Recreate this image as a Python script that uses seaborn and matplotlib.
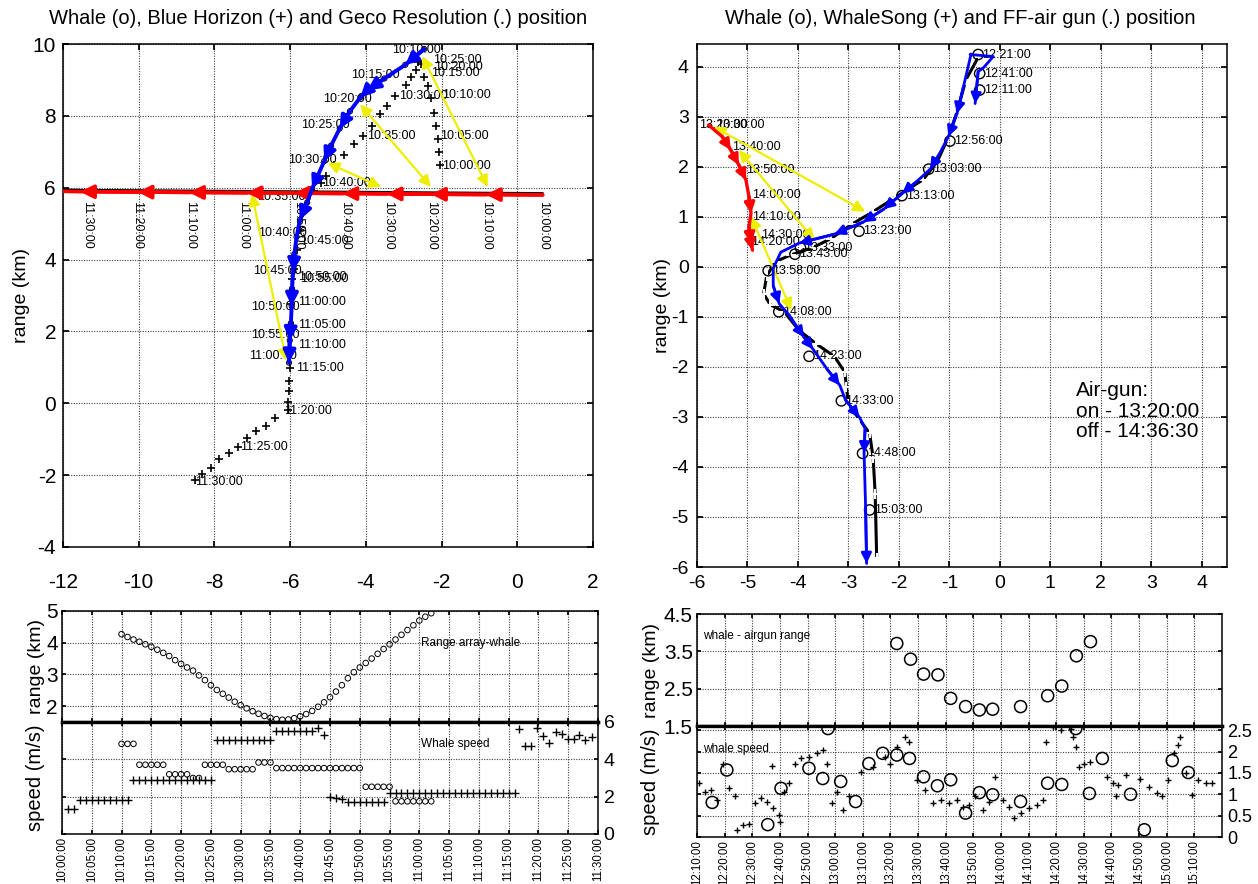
import matplotlib
matplotlib.use("Agg")
import matplotlib.pyplot as plt
import seaborn as sns

# ---------------- DATA ----------------
# Panel A (top-left): whale track (o), Blue Horizon (+), Geco Resolution (.)
whaleA_x = [-2.46, -2.96, -3.51, -3.96, -4.15, -4.42, -4.69, -4.92, -5.10, -5.28, -5.42,
            -5.55, -5.74, -5.83, -5.89, -5.92, -5.95, -5.96, -5.98, -6.01, -6.03]
whaleA_y = [9.86, 9.42, 9.04, 8.71, 8.51, 8.13, 7.65, 7.17, 6.74, 6.31, 5.97,
            5.59, 5.11, 4.63, 4.15, 3.67, 3.19, 2.71, 2.23, 1.75, 1.13]
whaleA_arrow_tips = [1, 3, 4, 6, 8, 10, 12, 15, 17, 19, 20]
whaleA_labels = ['10:10:00', '10:15:00', '10:20:00', '10:25:00', '10:30:00', '10:35:00',
                 '10:40:00', '10:45:00', '10:50:00', '10:55:00', '11:00:00']
whaleA_lab_x = [-2.01, -3.10, -3.83, -4.42, -4.78, -5.60, -5.55, -5.69, -5.74, -5.74, -5.83]
whaleA_lab_y = [9.83, 9.14, 8.47, 7.75, 6.76, 5.73, 4.73, 3.67, 2.67, 1.90, 1.32]

bh_x = [-2.05, -2.07, -2.10, -2.14, -2.19, -2.28, -2.37, -2.46, -2.55, -2.62, -2.68, -2.82,
        -2.95, -3.22, -3.44, -3.62, -3.85, -4.07, -4.30, -4.57, -4.83, -5.06, -5.19, -5.37,
        -5.60, -5.73, -5.82, -5.91, -5.96, -5.97, -5.98, -6.00, -6.00, -6.02, -6.03, -6.05,
        -6.05, -6.39, -6.65, -6.91, -7.13, -7.37, -7.62, -7.87, -8.10, -8.33, -8.51]
bh_y = [6.64, 7.00, 7.36, 7.73, 8.09, 8.50, 8.82, 9.09, 9.45, 9.50, 9.27, 9.09,
        8.86, 8.55, 8.27, 8.05, 7.73, 7.45, 7.23, 6.91, 6.64, 6.32, 6.14, 5.91,
        5.36, 4.82, 4.27, 3.73, 3.47, 2.76, 2.13, 1.51, 0.98, 0.62, 0.34, 0.04,
        -0.18, -0.40, -0.62, -0.78, -0.98, -1.22, -1.38, -1.55, -1.79, -1.98, -2.13]
bh_labels = ['10:00:00', '10:05:00', '10:10:00', '10:15:00', '10:20:00', '10:25:00', '10:30:00',
             '10:35:00', '10:40:00', '10:45:00', '10:50:00', '10:55:00', '11:00:00', '11:05:00',
             '11:10:00', '11:15:00', '11:20:00', '11:25:00', '11:30:00']
bh_lab_x = [-2.00, -2.05, -1.98, -2.28, -2.20, -2.23, -3.13, -3.98, -5.15, -5.75, -5.78,
            -5.75, -5.80, -5.80, -5.78, -5.85, -6.15, -7.33, -8.50]
bh_lab_y = [6.60, 7.45, 8.57, 9.18, 9.36, 9.55, 8.55, 7.45, 6.14, 4.53, 3.52, 3.45,
            2.81, 2.19, 1.61, 0.99, -0.21, -1.22, -2.18]

geco_x = [0.67, -0.83, -2.28, -3.45, -4.62, -5.90, -7.15, -8.67, -10.03, -11.55, -12.0]
geco_y = [5.80, 5.81, 5.82, 5.83, 5.84, 5.85, 5.86, 5.87, 5.88, 5.89, 5.90]
geco_dot_y = [5.84, 5.85, 5.86, 5.87, 5.88, 5.89, 5.90, 5.91, 5.92, 5.93, 5.94]
geco_labels = ['10:00:00', '10:10:00', '10:20:00', '10:30:00', '10:40:00', '10:50:00',
               '11:00:00', '11:10:00', '11:20:00', '11:30:00']
geco_lab_x = [0.67, -0.83, -2.28, -3.42, -4.55, -5.78, -7.24, -8.65, -10.05, -11.37]
geco_lab_y = 5.62

yelA_x0 = [-0.78, -2.28, -3.60, -7.01]
yelA_y0 = [6.02, 6.02, 6.02, 5.83]
yelA_x1 = [-2.51, -4.15, -5.01, -6.10]
yelA_y1 = [9.66, 8.32, 6.69, 1.18]

# Panel B (top-right): whale (o), WhaleSong (+), FF-air gun (.)
whaleB_x = [-0.57, -0.72, -0.85, -1.02, -1.20, -1.38, -1.65, -1.94, -2.30, -2.71, -3.28,
            -3.98, -4.34, -4.49, -4.49, -4.37, -4.19, -3.88, -3.70, -3.42, -3.17, -3.06,
            -2.78, -2.67, -2.69, -2.66, -2.64]
whaleB_y = [4.25, 3.60, 3.06, 2.60, 2.25, 1.95, 1.70, 1.46, 1.15, 0.89, 0.65,
            0.47, 0.29, -0.03, -0.38, -0.74, -0.95, -1.41, -1.65, -2.05, -2.37, -2.66,
            -3.01, -3.23, -3.72, -4.80, -5.93]
whaleB_arrow_tips = [2, 3, 5, 7, 8, 9, 10, 11, 15, 17, 18, 20, 22, 24, 26]
whaleB_loop_x = [-0.59, -0.13, -0.33, -0.43, -0.49]
whaleB_loop_y = [4.24, 4.20, 3.97, 3.90, 3.26]
whaleB_labels = ['12:21:00', '12:41:00', '12:11:00', '12:56:00', '13:03:00', '13:13:00',
                 '13:23:00', '13:33:00', '13:43:00', '13:58:00', '14:08:00', '14:23:00',
                 '14:33:00', '14:48:00', '15:03:00']
whaleB_cx = [-0.43, -0.40, -0.40, -0.99, -1.41, -1.94, -2.79, -3.95, -4.06, -4.59, -4.38,
             -3.78, -3.14, -2.72, -2.58]
whaleB_cy = [4.24, 3.86, 3.53, 2.51, 1.95, 1.42, 0.71, 0.38, 0.25, -0.08, -0.90,
             -1.79, -2.68, -3.73, -4.86]

ws_x = [-0.42, -0.67, -0.85, -1.02, -1.24, -1.52, -2.08, -2.51, -2.93, -3.35, -3.71, -4.13,
        -4.45, -4.62, -4.68, -4.55, -4.27, -3.99, -3.64, -3.28, -3.07, -3.04, -3.00, -2.79,
        -2.58, -2.51, -2.47, -2.44]
ws_y = [4.20, 3.74, 3.09, 2.59, 2.10, 1.74, 1.38, 1.10, 0.85, 0.56, 0.38, 0.24,
        0.10, -0.19, -0.54, -0.76, -0.90, -1.26, -1.54, -1.79, -2.11, -2.40, -2.75, -3.04,
        -3.33, -3.82, -4.54, -5.82]

ff_x = [-5.77, -5.50, -5.33, -5.17, -5.03, -4.97, -4.93, -4.97, -4.93, -4.90]
ff_y = [2.83, 2.60, 2.33, 2.03, 1.73, 1.40, 1.07, 0.80, 0.47, 0.33]
ff_arrow_tips = [2, 3, 4, 6, 8, 9]
ff_labels = ['13:20:00', '13:30:00', '13:40:00', '13:50:00', '14:00:00', '14:10:00',
             '14:30:00', '14:20:00']
ff_lab_x = [-5.95, -5.62, -5.30, -5.03, -4.90, -4.90, -4.73, -4.93]
ff_lab_y = [2.83, 2.83, 2.40, 1.93, 1.43, 1.00, 0.63, 0.50]

yelB_x0 = [-5.67, -5.17, -4.93]
yelB_y0 = [2.80, 2.33, 1.00]
yelB_x1 = [-2.67, -3.67, -4.13]
yelB_y1 = [1.10, 0.53, -0.87]

airgun_note = "Air-gun:\non - 13:20:00\noff - 14:36:30"

# Panel C (bottom-left): minutes after 10:00:00
rangeC_t = [10, 11, 12, 13, 14, 15, 16, 17, 18, 19, 20, 21, 22, 23, 24, 25, 26, 27, 28, 29,
            30, 31, 32, 33, 34, 35, 36, 37, 38, 39, 40, 41, 42, 43, 44, 45, 46, 47, 48, 49,
            50, 51, 52, 53, 54, 55, 56, 57, 58, 59, 60, 61, 62]
rangeC_km = [4.27, 4.18, 4.10, 4.03, 3.95, 3.87, 3.78, 3.68, 3.58, 3.45, 3.33, 3.22, 3.12,
             2.97, 2.82, 2.66, 2.51, 2.39, 2.27, 2.14, 2.03, 1.93, 1.84, 1.76, 1.69, 1.63,
             1.59, 1.57, 1.58, 1.62, 1.68, 1.75, 1.85, 1.98, 2.12, 2.28, 2.46, 2.66, 2.88,
             3.07, 3.22, 3.36, 3.50, 3.65, 3.80, 3.95, 4.10, 4.25, 4.40, 4.55, 4.70, 4.82, 4.93]
whale_spdC_t = [10, 11, 12, 13, 14, 15, 16, 17, 18, 19, 20, 21, 22, 23, 24, 25, 26, 27,
                28, 29, 30, 31, 32, 33, 34, 35, 36, 37, 38, 39, 40, 41, 42, 43, 44, 45, 46,
                47, 48, 49, 50, 51, 52, 53, 54, 55, 56, 57, 58, 59, 60, 61, 62]
whale_spdC_v = [4.83, 4.83, 4.83, 3.71, 3.71, 3.71, 3.71, 3.71, 3.20, 3.20, 3.20, 3.20,
                3.00, 3.00, 3.71, 3.71, 3.71, 3.71, 3.47, 3.47, 3.47, 3.47, 3.47, 3.83,
                3.83, 3.83, 3.53, 3.53, 3.53, 3.53, 3.53, 3.53, 3.53, 3.53, 3.53, 3.53,
                3.53, 3.53, 3.53, 3.53, 3.53, 2.53, 2.53, 2.53, 2.53, 2.53, 1.75, 1.75,
                1.75, 1.75, 1.75, 1.75, 1.75]
ship_spdC_t = [1, 2, 3, 4, 5, 6, 7, 8, 9, 10, 11, 12, 13, 14, 15, 16, 17, 18, 19, 20, 21,
               22, 23, 24, 25, 26, 27, 28, 29, 30, 31, 32, 33, 34, 35, 36, 37, 38, 39, 40,
               41, 42, 43, 44, 45, 46, 47, 48, 49, 50, 51, 52, 53, 54, 55, 56, 57, 58, 59,
               60, 61, 62, 63, 64, 65, 66, 67, 68, 69, 70, 71, 72, 73, 74, 75, 76,
               76.7, 77.7, 78.7, 79.7, 80.7, 81.7, 83, 84, 85, 86, 86.8, 87.9, 89]
ship_spdC_v = [1.36, 1.36, 1.84, 1.84, 1.84, 1.84, 1.84, 1.84, 1.84, 1.84, 1.84, 2.89,
               2.89, 2.89, 2.89, 2.89, 2.89, 2.89, 2.89, 2.89, 2.89, 2.89, 2.89, 2.89,
               2.89, 5.03, 5.03, 5.03, 5.03, 5.03, 5.03, 5.03, 5.03, 5.03, 5.03, 5.52,
               5.52, 5.52, 5.52, 5.52, 5.52, 5.52, 5.70, 5.28, 2.00, 1.95, 1.85, 1.72,
               1.72, 1.72, 1.72, 1.72, 1.72, 1.72, 2.17, 2.17, 2.17, 2.17, 2.17, 2.17,
               2.17, 2.17, 2.17, 2.17, 2.17, 2.17, 2.17, 2.17, 2.17, 2.17, 2.17, 2.17,
               2.17, 2.17, 2.17, 2.17,
               5.60, 4.74, 4.70, 5.70, 5.24, 4.85, 5.46, 5.37, 5.10, 5.10, 5.33, 5.06, 5.20]
timeC_ticks = [0, 5, 10, 15, 20, 25, 30, 35, 40, 45, 50, 55, 60, 65, 70, 75, 80, 85, 90]
timeC_labels = ['10:00:00', '10:05:00', '10:10:00', '10:15:00', '10:20:00', '10:25:00',
                '10:30:00', '10:35:00', '10:40:00', '10:45:00', '10:50:00', '10:55:00',
                '11:00:00', '11:05:00', '11:10:00', '11:15:00', '11:20:00', '11:25:00',
                '11:30:00']

# Panel D (bottom-right): minutes after 12:10:00
rangeD_t = [72.3, 77.3, 82.0, 87.2, 91.8, 97.2, 102.2, 107.0, 117.1, 126.9, 132.0, 137.3, 142.4]
rangeD_km = [3.71, 3.29, 2.89, 2.87, 2.24, 2.02, 1.93, 1.95, 2.02, 2.31, 2.57, 3.38, 3.76]
whale_spdD_t = [5.5, 10.8, 25.6, 30.4, 40.5, 45.5, 47.4, 52.0, 57.4, 62.2, 67.2, 72.3, 76.9,
                82.0, 87.0, 91.8, 97.2, 102.2, 107.0, 117.1, 126.9, 132.0, 137.1, 142.0,
                146.7, 156.9, 161.9, 172.0, 177.8]
whale_spdD_v = [0.81, 1.57, 0.29, 1.14, 1.61, 1.37, 2.54, 1.30, 0.83, 1.72, 1.96, 1.92, 1.84,
                1.41, 1.20, 1.34, 0.56, 1.04, 0.99, 0.83, 1.26, 1.23, 2.54, 1.02,
                1.84, 1.00, 0.17, 1.79, 1.51]
ship_spdD_t = [0.7, 2.9, 5.1, 7.2, 9.4, 11.6, 13.7, 14.5, 16.6, 18.8, 21.0, 23.1, 25.3, 27.2,
               27.5, 29.6, 30.1, 31.5, 33.3, 35.4, 37.6, 40.5, 43.4, 45.5, 47.0, 48.9, 50.6,
               52.8, 54.9, 59.3, 63.6, 67.9, 69.7, 72.3, 75.2, 76.6, 79.5, 82.4, 85.3, 88.2,
               91.1, 94.0, 96.1, 98.3, 100.5, 103.4, 105.5, 107.7, 110.6, 112.8, 114.9, 117.1,
               120.0, 122.9, 125.1, 126.2, 128.7, 131.6, 135.2, 136.2, 137.1, 138.1, 140.2,
               142.4, 148.2, 150.4, 151.8, 152.5, 155.4, 160.5, 163.4, 166.3, 168.4, 170.6,
               172.8, 174.2, 174.9, 177.1, 179.3, 181.4, 184.3, 186.5]
ship_spdD_v = [1.26, 1.06, 1.09, 0.87, 1.72, 1.14, 0.95, 0.17, 0.27, 0.30, 0.79, 0.91, 0.83,
               1.67, 0.68, 0.52, 0.34, 1.06, 1.26, 1.72, 1.84, 1.88, 1.96, 2.03, 1.72, 0.79,
               1.06, 0.64, 0.95, 1.53, 1.65, 1.88, 1.72, 2.11, 2.34, 2.23, 1.34, 1.10, 0.79,
               0.87, 0.79, 0.87, 0.71, 0.75, 0.95, 0.64, 0.83, 1.41, 0.87, 0.71, 0.44, 0.56,
               0.68, 0.75, 0.87, 2.23, 2.58, 2.50, 2.54, 2.34, 2.11, 1.65, 1.72, 1.76, 1.41,
               1.26, 0.95, 1.22, 1.45, 1.37, 1.18, 1.02, 0.95, 1.34, 1.96, 2.15, 2.34, 1.49,
               0.99, 1.34, 1.27, 1.27]
timeD_ticks = [0, 10, 20, 30, 40, 50, 60, 70, 80, 90, 100, 110, 120, 130, 140, 150, 160,
               170, 180]
timeD_labels = ['12:10:00', '12:20:00', '12:30:00', '12:40:00', '12:50:00', '13:00:00',
                '13:10:00', '13:20:00', '13:30:00', '13:40:00', '13:50:00', '14:00:00',
                '14:10:00', '14:20:00', '14:30:00', '14:40:00', '14:50:00', '15:00:00',
                '15:10:00']

# ---------------- STYLE ----------------
sns.set_theme(style="ticks")
plt.rcParams["font.family"] = ["Liberation Sans", "DejaVu Sans"]
plt.rcParams.update({"axes.edgecolor": "black", "axes.linewidth": 1.1,
                     "text.color": "black", "axes.labelcolor": "black",
                     "xtick.color": "black", "ytick.color": "black",
                     "axes.unicode_minus": False})

W, H = 1258, 884
fig = plt.figure(figsize=(W / 100, H / 100), dpi=100)
fig.patch.set_facecolor("white")

GRID = dict(color="0.25", linestyle=(0, (1, 1.3)), linewidth=0.8)
YEL = "#eeee00"
LBL = 9
TLBL = 8.3


def box(l, t, r, b):
    return fig.add_axes([l / W, 1 - b / H, (r - l) / W, (b - t) / H])


def grid(ax):
    ax.grid(True, **GRID)
    ax.set_axisbelow(True)


def arrows(ax, xs, ys, tips, color, lw, ms, z):
    for i in tips:
        ax.annotate("", xy=(xs[i], ys[i]), xytext=(xs[i - 1], ys[i - 1]),
                    arrowprops=dict(arrowstyle="-|>", color=color, lw=lw,
                                    mutation_scale=ms, shrinkA=0, shrinkB=0),
                    zorder=z)


def yellow(ax, x0, y0, x1, y1):
    for a, b, c, d in zip(x0, y0, x1, y1):
        ax.annotate("", xy=(c, d), xytext=(a, b),
                    arrowprops=dict(arrowstyle="<|-|>", color=YEL, lw=1.6,
                                    mutation_scale=17, shrinkA=0, shrinkB=0),
                    zorder=4)


# ---------------- PANEL A ----------------
axA = box(63, 44, 593, 547)
grid(axA)
sns.lineplot(x=geco_x, y=geco_dot_y, sort=False, estimator=None, color="black",
             linewidth=2.0, ax=axA, zorder=3)
sns.scatterplot(x=bh_x, y=bh_y, marker="+", color="black", s=30, linewidth=1.2,
                ax=axA, zorder=3)
sns.scatterplot(x=whaleA_x, y=whaleA_y, marker="o", s=14, facecolors="none",
                edgecolor="black", linewidth=0.7, ax=axA, zorder=3)
for s, x, y in zip(bh_labels, bh_lab_x, bh_lab_y):
    axA.text(x, y, s, ha="left", va="center", fontsize=LBL, zorder=3)
for s, x, y in zip(whaleA_labels, whaleA_lab_x, whaleA_lab_y):
    axA.text(x, y, s, ha="right", va="center", fontsize=LBL, zorder=3)
for s, x in zip(geco_labels, geco_lab_x):
    axA.text(x, geco_lab_y, s, ha="center", va="top", rotation=-90, fontsize=LBL, zorder=3)
yellow(axA, yelA_x0, yelA_y0, yelA_x1, yelA_y1)
sns.lineplot(x=geco_x, y=geco_y, sort=False, estimator=None, color="red",
             linewidth=2.6, ax=axA, zorder=5)
arrows(axA, geco_x, geco_y, list(range(1, 10)), "red", 2.6, 20, 5)
sns.lineplot(x=whaleA_x, y=whaleA_y, sort=False, estimator=None, color="blue",
             linewidth=2.8, ax=axA, zorder=6)
arrows(axA, whaleA_x, whaleA_y, whaleA_arrow_tips, "blue", 2.8, 18, 6)
axA.set_xlim(-12, 2)
axA.set_ylim(-4, 10)
axA.set_xticks([-12, -10, -8, -6, -4, -2, 0, 2])
axA.set_yticks([-4, -2, 0, 2, 4, 6, 8, 10])
axA.tick_params(direction="in", length=4, labelsize=15, top=True, right=True)
axA.tick_params(axis="x", pad=19)
axA.tick_params(axis="y", pad=5)
axA.set_xlabel("")
axA.set_ylabel("range (km)", fontsize=14)
axA.yaxis.set_label_coords(-0.062, 0.5)
fig.text(318 / W, 1 - 19 / H, "Whale (o), Blue Horizon (+) and Geco Resolution (.) position",
         ha="center", va="center", fontsize=14.5)

# ---------------- PANEL B ----------------
axB = box(697, 44, 1227, 567)
grid(axB)
sns.lineplot(x=ws_x, y=ws_y, sort=False, estimator=None, color="black", linewidth=2.2,
             marker="+", markersize=7, markeredgewidth=1.4, ax=axB, zorder=3)
sns.scatterplot(x=whaleB_cx, y=whaleB_cy, marker="o", s=55, facecolors="none",
                edgecolor="black", linewidth=1.0, ax=axB, zorder=3)
for s, x, y in zip(whaleB_labels, whaleB_cx, whaleB_cy):
    axB.text(x + 0.08, y, s, ha="left", va="center", fontsize=LBL, zorder=3)
for s, x, y in zip(ff_labels, ff_lab_x, ff_lab_y):
    axB.text(x, y, s, ha="left", va="center", fontsize=LBL, zorder=3)
yellow(axB, yelB_x0, yelB_y0, yelB_x1, yelB_y1)
sns.lineplot(x=ff_x, y=ff_y, sort=False, estimator=None, color="red", linewidth=2.4,
             ax=axB, zorder=5)
arrows(axB, ff_x, ff_y, ff_arrow_tips, "red", 2.4, 15, 5)
sns.lineplot(x=whaleB_x, y=whaleB_y, sort=False, estimator=None, color="blue",
             linewidth=2.0, ax=axB, zorder=6)
arrows(axB, whaleB_x, whaleB_y, whaleB_arrow_tips, "blue", 2.0, 15, 6)
sns.lineplot(x=whaleB_loop_x, y=whaleB_loop_y, sort=False, estimator=None, color="blue",
             linewidth=2.0, ax=axB, zorder=6)
arrows(axB, whaleB_loop_x, whaleB_loop_y, [4], "blue", 2.0, 15, 6)
axB.text(1.5, -2.28, airgun_note, ha="left", va="top", fontsize=15, linespacing=1.12)
axB.set_xlim(-6, 4.5)
axB.set_ylim(-6, 4.45)
axB.set_xticks([-6, -5, -4, -3, -2, -1, 0, 1, 2, 3, 4])
axB.set_yticks([-6, -5, -4, -3, -2, -1, 0, 1, 2, 3, 4])
axB.tick_params(direction="in", length=4, labelsize=14, top=True, right=True)
axB.tick_params(axis="x", pad=6)
axB.tick_params(axis="y", pad=6)
axB.set_xlabel("")
axB.set_ylabel("range (km)", fontsize=14)
axB.yaxis.set_label_coords(-0.049, 0.5)
fig.text(960 / W, 1 - 19 / H, "Whale (o), WhaleSong (+) and FF-air gun (.) position",
         ha="center", va="center", fontsize=14.5)

# ---------------- PANEL C ----------------
axC1 = box(62, 611, 598, 722)
axC2 = box(62, 722, 598, 834)
for ax in (axC1, axC2):
    grid(ax)
    ax.set_xlim(0, 90)
    ax.set_xticks(timeC_ticks)
sns.scatterplot(x=rangeC_t, y=rangeC_km, marker="o", s=16, facecolors="none",
                edgecolor="black", linewidth=0.7, ax=axC1, zorder=3)
axC1.text(60.3, 4.0, "Range array-whale", ha="left", va="center", fontsize=8.5)
axC1.set_ylim(1.5, 5)
axC1.set_yticks([2, 3, 4, 5])
axC1.tick_params(direction="in", length=3, labelsize=15, labelbottom=False,
                 top=True, right=True, pad=3)
axC1.spines["bottom"].set_linewidth(2.4)
axC1.set_ylabel("range (km)", fontsize=14)
axC1.yaxis.set_label_coords(-0.032, 0.5)

sns.scatterplot(x=whale_spdC_t, y=whale_spdC_v, marker="o", s=16, facecolors="none",
                edgecolor="black", linewidth=0.7, ax=axC2, zorder=3)
sns.scatterplot(x=ship_spdC_t, y=ship_spdC_v, marker="+", color="black", s=26,
                linewidth=1.0, ax=axC2, zorder=3)
axC2.text(60.3, 4.8, "Whale speed", ha="left", va="center", fontsize=8.5)
axC2.set_ylim(0, 6)
axC2.set_yticks([0, 2, 4, 6])
axC2.set_xticklabels(timeC_labels, rotation=90, fontsize=TLBL)
axC2.tick_params(direction="in", length=3, top=True, left=True, right=True,
                 labelleft=False, labelright=True)
axC2.tick_params(axis="y", labelsize=14, pad=4)
axC2.tick_params(axis="x", pad=2)
axC2.spines["top"].set_linewidth(2.4)
axC2.set_ylabel("speed (m/s)", fontsize=14.5)
axC2.yaxis.set_label_position("left")
axC2.yaxis.set_label_coords(-0.032, 0.5)
axC2.set_xlabel("")

# ---------------- PANEL D ----------------
axD1 = box(697, 614, 1222, 726)
axD2 = box(697, 726, 1222, 837)
for ax in (axD1, axD2):
    grid(ax)
    ax.set_xlim(0, 190)
    ax.set_xticks(timeD_ticks)
sns.scatterplot(x=rangeD_t, y=rangeD_km, marker="o", s=75, facecolors="none",
                edgecolor="black", linewidth=1.1, ax=axD1, zorder=3)
axD1.text(2.2, 3.91, "whale - airgun range", ha="left", va="center", fontsize=8.5)
axD1.set_ylim(1.5, 4.5)
axD1.set_yticks([1.5, 2.5, 3.5, 4.5])
axD1.tick_params(direction="in", length=3, labelsize=15, labelbottom=False,
                 top=True, right=True, pad=3)
axD1.spines["bottom"].set_linewidth(2.4)
axD1.set_ylabel("range (km)", fontsize=14)
axD1.yaxis.set_label_coords(-0.07, 0.5)

sns.scatterplot(x=whale_spdD_t, y=whale_spdD_v, marker="o", s=75, facecolors="none",
                edgecolor="black", linewidth=1.1, ax=axD2, zorder=3)
sns.scatterplot(x=ship_spdD_t, y=ship_spdD_v, marker="+", color="black", s=22,
                linewidth=1.0, ax=axD2, zorder=3)
axD2.text(2.2, 2.05, "whale speed", ha="left", va="center", fontsize=8.5)
axD2.set_ylim(0, 2.6)
axD2.set_yticks([0, 0.5, 1, 1.5, 2, 2.5])
axD2.set_yticklabels(["0", "0.5", "1", "1.5", "2", "2.5"])
axD2.set_xticklabels(timeD_labels, rotation=90, fontsize=TLBL)
axD2.tick_params(direction="in", length=3, top=True, left=True, right=True,
                 labelleft=False, labelright=True)
axD2.tick_params(axis="y", labelsize=13, pad=4)
axD2.tick_params(axis="x", pad=2)
axD2.spines["top"].set_linewidth(2.4)
axD2.set_ylabel("speed (m/s)", fontsize=14.5)
axD2.yaxis.set_label_position("left")
axD2.yaxis.set_label_coords(-0.07, 0.5)
axD2.set_xlabel("")

fig.savefig("out.png", dpi=100)
